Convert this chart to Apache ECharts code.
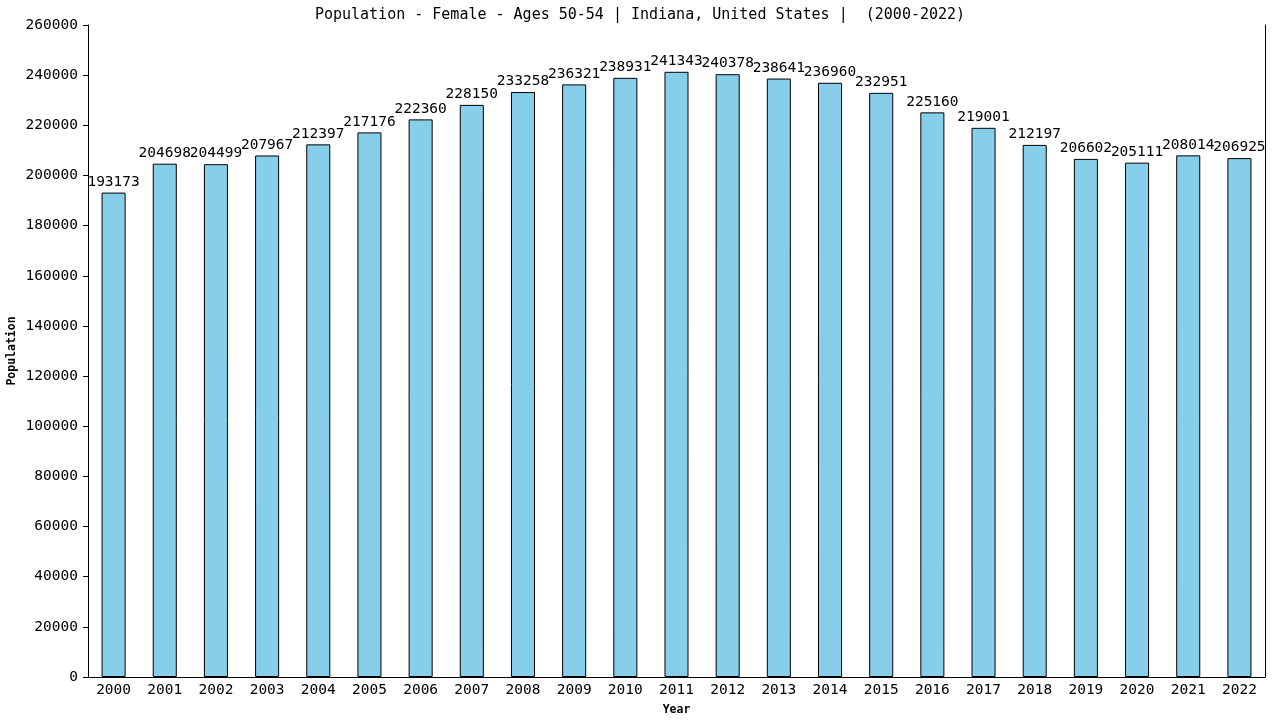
<!DOCTYPE html>
<html><head><meta charset="utf-8">
<script src="https://cdn.jsdelivr.net/npm/echarts@6/dist/echarts.min.js"></script>
<style>html,body{margin:0;padding:0;background:#fff}#c{width:1280px;height:720px}</style>
</head><body><div id="c"></div>
<script>
const years = ['2000','2001','2002','2003','2004','2005','2006','2007','2008','2009','2010','2011','2012','2013','2014','2015','2016','2017','2018','2019','2020','2021','2022'];
const population = [193173,204698,204499,207967,212397,217176,222360,228150,233258,236321,238931,241343,240378,238641,236960,232951,225160,219001,212197,206602,205111,208014,206925];
const titleText = 'Population - Female - Ages 50-54 | Indiana, United States |  (2000-2022)';
const F = 'DejaVu Sans Mono, monospace';
const chart = echarts.init(document.getElementById('c'));
chart.setOption({
  animation: false,
  backgroundColor: '#fff',
  title: {text: titleText, left: 'center', top: 3, textStyle: {fontFamily: F, fontSize: 15, fontWeight: 'normal', color: '#000'}},
  grid: {left: 88, right: 15, top: 25, bottom: 43, containLabel: false, outerBoundsMode: 'none'},
  xAxis: {
    type: 'category', data: years, name: 'Year', nameLocation: 'middle', nameGap: 27,
    nameTextStyle: {fontFamily: F, fontSize: 11.5, fontWeight: 'bold', color: '#000'},
    axisLine: {lineStyle: {color: '#000', width: 1}}, axisTick: {show: false},
    axisLabel: {fontFamily: F, fontSize: 14.5, color: '#000', margin: 6}
  },
  yAxis: [{
    type: 'value', min: 0, max: 260000, interval: 20000, name: 'Population', nameLocation: 'middle', nameGap: 70,
    nameMoveOverlap: false,
    nameTextStyle: {fontFamily: F, fontSize: 11.5, fontWeight: 'bold', color: '#000'},
    axisLine: {show: true, lineStyle: {color: '#000', width: 1}},
    axisTick: {show: true, length: 5, lineStyle: {color: '#000'}},
    splitLine: {show: false},
    axisLabel: {fontFamily: F, fontSize: 14.5, color: '#000', margin: 10, formatter: v => String(v)}
  },{
    type: 'value', min: 0, max: 260000, interval: 20000, position: 'right',
    axisLine: {show: true, lineStyle: {color: '#000', width: 1}},
    axisTick: {show: false}, axisLabel: {show: false}, splitLine: {show: false}
  }],
  series: [{
    type: 'bar', data: population, barWidth: '47%',
    itemStyle: {color: '#87CEEB', borderColor: '#000', borderWidth: 1},
    label: {show: true, position: 'top', distance: 3, fontFamily: F, fontSize: 14.5, color: '#000'}
  }]
});
</script></body></html>
